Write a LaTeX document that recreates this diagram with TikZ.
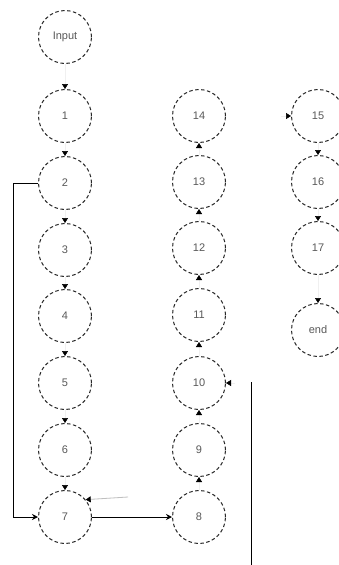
\documentclass[tikz,border=0pt]{standalone}
\usepackage{fontspec}
\setmainfont{Liberation Sans}
\usetikzlibrary{arrows.meta}
\begin{document}
\begin{tikzpicture}[x=1pt,y=-1pt,
  st/.style={circle, draw=black!85, dash pattern=on 3.5pt off 2.5pt, line width=1pt,
             minimum size=53pt, inner sep=0pt, font=\fontsize{11}{12}\selectfont, text=black!65},
  fl/.style={draw=black!6, line width=0.5pt, -{Triangle[length=5pt,width=6pt,color=black]}},
  ln/.style={draw=black, line width=1pt, -{Stealth[length=6pt,width=6pt,inset=2pt]}},
  gl/.style={draw=black!25, line width=0.8pt, -{Triangle[length=5pt,width=6pt,color=black]}}
]
\useasboundingbox (0,0) rectangle (338,565);
\fill[white] (0,0) rectangle (338,565);
% column 1
\node[st] (in) at (65,37) {Input};
\node[st] (n1) at (65,116) {1};
\node[st] (n2) at (65,183) {2};
\node[st] (n3) at (65,250) {3};
\node[st] (n4) at (65,316) {4};
\node[st] (n5) at (65,383) {5};
\node[st] (n6) at (65,450) {6};
\node[st] (n7) at (65,517) {7};
% column 2
\node[st] (n14) at (199,116) {14};
\node[st] (n13) at (199,182) {13};
\node[st] (n12) at (199,248) {12};
\node[st] (n11) at (199,315) {11};
\node[st] (n10) at (199,383) {10};
\node[st] (n9) at (199,450) {9};
\node[st] (n8) at (199,517) {8};
% column 3
\node[st] (n15) at (318,116) {15};
\node[st] (n16) at (318,182) {16};
\node[st] (n17) at (318,248) {17};
\node[st] (end) at (318,330) {end};
% downward chain
\draw[fl] (in) -- (n1);
\draw[fl] (n1) -- (n2);
\draw[fl] (n2) -- (n3);
\draw[fl] (n3) -- (n4);
\draw[fl] (n4) -- (n5);
\draw[fl] (n5) -- (n6);
\draw[fl] (n6) -- (n7);
% upward chain
\draw[fl] (n8) -- (n9);
\draw[fl] (n9) -- (n10);
\draw[fl] (n10) -- (n11);
\draw[fl] (n11) -- (n12);
\draw[fl] (n12) -- (n13);
\draw[fl] (n13) -- (n14);
% column 3
\draw[fl] (n15) -- (n16);
\draw[fl] (n16) -- (n17);
\draw[fl] (n17) -- (end);
% loop and link
\draw[ln] (n2.west) -- ++(-25,0) |- (n7.west);
\draw[ln] (n7) -- (n8);
% stubs
\coordinate (g7) at (128,497);
\draw[gl] (g7) -- (n7.40);
\coordinate (s10) at (235,383);
\draw[fl] (s10) -- (n10.east);
\coordinate (s15) at (281,116);
\draw[fl] (s15) -- (n15.west);
\coordinate (v1) at (251,382);
\coordinate (v2) at (251,565);
\draw[line width=1pt] (v1) -- (v2);
\end{tikzpicture}
\end{document}
